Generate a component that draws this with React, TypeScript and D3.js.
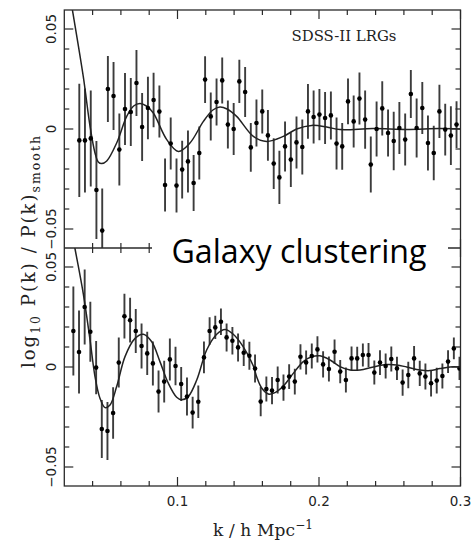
import React from 'react';
import * as d3 from 'd3';

// ---- Data ----
const kTop = [0.0306, 0.0346, 0.0387, 0.0427, 0.0468, 0.0508, 0.0548, 0.0589, 0.0629, 0.0670, 0.0710, 0.0750, 0.0791, 0.0831, 0.0872, 0.0912, 0.0952, 0.0993, 0.1033, 0.1074, 0.1114, 0.1154, 0.1195, 0.1235, 0.1276, 0.1316, 0.1356, 0.1397, 0.1437, 0.1478, 0.1518, 0.1558, 0.1599, 0.1639, 0.1680, 0.1720, 0.1760, 0.1801, 0.1841, 0.1882, 0.1922, 0.1962, 0.2003, 0.2043, 0.2084, 0.2124, 0.2164, 0.2205, 0.2245, 0.2286, 0.2326, 0.2366, 0.2407, 0.2447, 0.2488, 0.2528, 0.2568, 0.2609, 0.2649, 0.2690, 0.2730, 0.2770, 0.2811, 0.2851, 0.2892, 0.2932, 0.2972];
const valTop = [-0.0057, -0.0057, -0.0047, -0.0305, -0.0508, 0.0200, 0.0165, -0.0103, 0.0100, 0.0085, 0.0230, 0.0010, 0.0105, 0.0145, 0.0087, -0.0280, -0.0073, -0.0283, -0.0203, -0.0162, -0.0270, -0.0120, 0.0247, 0.0063, 0.0135, 0.0243, 0.0022, 0.0000, 0.0238, 0.0185, -0.0092, 0.0030, 0.0088, -0.0032, -0.0173, -0.0242, -0.0087, -0.0153, -0.0067, -0.0090, 0.0088, 0.0060, 0.0072, 0.0055, 0.0068, -0.0073, -0.0087, 0.0138, 0.0038, 0.0152, 0.0047, -0.0178, 0.0000, 0.0103, -0.0020, -0.0060, 0.0005, -0.0053, 0.0175, 0.0005, 0.0105, -0.0070, -0.0120, 0.0088, -0.0003, -0.0033, 0.0022];
const errTop = [0.0283, 0.0260, 0.0240, 0.0245, 0.0210, 0.0165, 0.0170, 0.0180, 0.0180, 0.0170, 0.0165, 0.0170, 0.0156, 0.0136, 0.0130, 0.0133, 0.0130, 0.0135, 0.0144, 0.0155, 0.0140, 0.0133, 0.0117, 0.0120, 0.0117, 0.0115, 0.0120, 0.0130, 0.0108, 0.0125, 0.0122, 0.0118, 0.0110, 0.0127, 0.0127, 0.0133, 0.0125, 0.0137, 0.0130, 0.0137, 0.0137, 0.0133, 0.0128, 0.0130, 0.0120, 0.0130, 0.0117, 0.0114, 0.0130, 0.0130, 0.0146, 0.0140, 0.0137, 0.0136, 0.0118, 0.0146, 0.0130, 0.0130, 0.0120, 0.0147, 0.0130, 0.0137, 0.0136, 0.0133, 0.0129, 0.0147, 0.0117];

const kBot = [0.0264, 0.0304, 0.0344, 0.0384, 0.0425, 0.0465, 0.0505, 0.0545, 0.0585, 0.0625, 0.0665, 0.0705, 0.0746, 0.0786, 0.0826, 0.0866, 0.0906, 0.0946, 0.0986, 0.1026, 0.1067, 0.1107, 0.1147, 0.1187, 0.1227, 0.1267, 0.1307, 0.1347, 0.1388, 0.1428, 0.1468, 0.1508, 0.1548, 0.1588, 0.1628, 0.1668, 0.1708, 0.1749, 0.1789, 0.1829, 0.1869, 0.1909, 0.1949, 0.1989, 0.2029, 0.2070, 0.2110, 0.2150, 0.2190, 0.2230, 0.2270, 0.2310, 0.2350, 0.2391, 0.2431, 0.2471, 0.2511, 0.2551, 0.2591, 0.2631, 0.2672, 0.2712, 0.2752, 0.2792, 0.2832, 0.2872, 0.2912, 0.2953, 0.2993];
const valBot = [0.0180, 0.0075, 0.0300, 0.0176, -0.0003, -0.0310, -0.0320, -0.0230, 0.0022, 0.0254, 0.0234, 0.0180, 0.0105, 0.0068, 0.0018, -0.0123, -0.0073, 0.0038, 0.0005, -0.0085, -0.0148, -0.0228, -0.0174, 0.0048, 0.0180, 0.0198, 0.0226, 0.0148, 0.0131, 0.0098, 0.0071, 0.0056, -0.0008, -0.0173, -0.0110, -0.0118, -0.0065, -0.0103, -0.0048, -0.0073, 0.0051, 0.0023, 0.0055, 0.0088, 0.0013, -0.0010, 0.0076, -0.0023, -0.0065, 0.0043, 0.0043, 0.0060, 0.0060, -0.0028, 0.0022, 0.0005, 0.0040, -0.0007, -0.0078, -0.0040, 0.0043, -0.0032, -0.0048, -0.0081, -0.0068, -0.0045, 0.0027, 0.0093, -0.0007];
const errBot = [0.0223, 0.0208, 0.0188, 0.0150, 0.0133, 0.0145, 0.0145, 0.0129, 0.0125, 0.0112, 0.0112, 0.0110, 0.0112, 0.0108, 0.0110, 0.0105, 0.0104, 0.0105, 0.0096, 0.0085, 0.0095, 0.0079, 0.0081, 0.0079, 0.0069, 0.0058, 0.0066, 0.0070, 0.0069, 0.0070, 0.0066, 0.0070, 0.0070, 0.0073, 0.0062, 0.0068, 0.0068, 0.0066, 0.0062, 0.0064, 0.0063, 0.0060, 0.0062, 0.0066, 0.0066, 0.0062, 0.0061, 0.0058, 0.0062, 0.0060, 0.0058, 0.0058, 0.0060, 0.0060, 0.0062, 0.0062, 0.0062, 0.0058, 0.0066, 0.0066, 0.0062, 0.0063, 0.0065, 0.0066, 0.0064, 0.0062, 0.0057, 0.0054, 0.0058];

const modelTopK = [0.0235, 0.0257, 0.0334, 0.0382, 0.0417, 0.0440, 0.0464, 0.0500, 0.0570, 0.0641, 0.0690, 0.0735, 0.0780, 0.0829, 0.0924, 0.1006, 0.1088, 0.1183, 0.1250, 0.1300, 0.1350, 0.1418, 0.1536, 0.1630, 0.1748, 0.1842, 0.1948, 0.2054, 0.2148, 0.2380, 0.2620, 0.2850, 0.3000];
const modelTopV = [0.0692, 0.0597, 0.0263, 0.0013, -0.0120, -0.0165, -0.0173, -0.0160, -0.0070, 0.0063, 0.0115, 0.0127, 0.0115, 0.0080, -0.0053, -0.0112, -0.0070, 0.0038, 0.0095, 0.0110, 0.0100, 0.0063, -0.0037, -0.0062, -0.0037, 0.0000, 0.0018, 0.0010, -0.0003, 0.0002, -0.0002, 0.0002, 0.0000];

const modelBotK = [0.0255, 0.0276, 0.0334, 0.0382, 0.0417, 0.0452, 0.0488, 0.0523, 0.0570, 0.0629, 0.0700, 0.0758, 0.0818, 0.0876, 0.0935, 0.0994, 0.1030, 0.1076, 0.1136, 0.1206, 0.1277, 0.1336, 0.1394, 0.1465, 0.1536, 0.1560, 0.1595, 0.1642, 0.1689, 0.1748, 0.1818, 0.1889, 0.1948, 0.2007, 0.2078, 0.2148, 0.2219, 0.2290, 0.2384, 0.2478, 0.2549, 0.2620, 0.2714, 0.2784, 0.2855, 0.2926, 0.2996];
const modelBotV = [0.0670, 0.0590, 0.0367, 0.0135, -0.0048, -0.0156, -0.0203, -0.0190, -0.0098, 0.0052, 0.0143, 0.0164, 0.0126, 0.0027, -0.0081, -0.0151, -0.0164, -0.0148, -0.0065, 0.0085, 0.0164, 0.0188, 0.0164, 0.0101, 0.0005, -0.0050, -0.0105, -0.0135, -0.0128, -0.0095, -0.0032, 0.0027, 0.0051, 0.0056, 0.0035, 0.0002, -0.0015, -0.0015, 0.0000, 0.0012, 0.0010, 0.0000, -0.0015, -0.0018, -0.0008, 0.0000, 0.0000];

const xMajorTicks = [0.1, 0.2, 0.3];
const xTickLabels = ['0.1', '0.2', '0.3'];
const yLabelVals = [0.05, 0, -0.05];
const yTickLabels = ['0.05', '0', '\u22120.05'];

const FRAME = '#2a2a2a';

type PanelProps = {
  id: string;
  x: d3.ScaleLinear<number, number>;
  y: d3.ScaleLinear<number, number>;
  ks: number[];
  vs: number[];
  es: number[];
  mk: number[];
  mv: number[];
};

function Panel({ id, x, y, ks, vs, es, mk, mv }: PanelProps) {
  const [x0, x1] = x.range();
  const [yb, yt] = y.range();
  const line = d3
    .line<number>()
    .x((_, i) => x(mk[i]))
    .y((v) => y(v))
    .curve(d3.curveCatmullRom.alpha(0.5));
  const xMinor = d3.range(0.04, 0.295, 0.02).filter((t) => !xMajorTicks.some((m) => Math.abs(m - t) < 1e-6));
  const yTicks = d3.range(-0.05, 0.0551, 0.01);
  const isMajorY = (t: number) => Math.abs(t) < 1e-6 || Math.abs(Math.abs(t) - 0.05) < 1e-6;
  return (
    <g>
      <defs>
        <clipPath id={id}>
          <rect x={x0} y={yt} width={x1 - x0} height={yb - yt} />
        </clipPath>
      </defs>
      <g clipPath={`url(#${id})`}>
        {ks.map((k, i) => (
          <line
            key={'e' + i}
            x1={x(k)}
            x2={x(k)}
            y1={y(vs[i] - es[i])}
            y2={y(vs[i] + es[i])}
            stroke="#3c3c3c"
            strokeWidth={1.9}
          />
        ))}
        <path d={line(mv) || ''} fill="none" stroke="#222" strokeWidth={1.5} />
        {ks.map((k, i) => (
          <circle key={'p' + i} cx={x(k)} cy={y(vs[i])} r={2.3} fill="#000" />
        ))}
      </g>
      {xMinor.map((t, i) => (
        <g key={'xm' + i}>
          <line x1={x(t)} x2={x(t)} y1={yt} y2={yt + 5} stroke={FRAME} strokeWidth={1.2} />
          <line x1={x(t)} x2={x(t)} y1={yb} y2={yb - 5} stroke={FRAME} strokeWidth={1.2} />
        </g>
      ))}
      {xMajorTicks.map((t, i) => (
        <g key={'xM' + i}>
          <line x1={x(t)} x2={x(t)} y1={yt} y2={yt + 9} stroke={FRAME} strokeWidth={1.2} />
          <line x1={x(t)} x2={x(t)} y1={yb} y2={yb - 9} stroke={FRAME} strokeWidth={1.2} />
        </g>
      ))}
      {yTicks.map((t, i) => {
        const len = isMajorY(t) ? 9 : 5;
        return (
          <g key={'yt' + i}>
            <line x1={x0} x2={x0 + len} y1={y(t)} y2={y(t)} stroke={FRAME} strokeWidth={1.2} />
            <line x1={x1} x2={x1 - len} y1={y(t)} y2={y(t)} stroke={FRAME} strokeWidth={1.2} />
          </g>
        );
      })}
      {yLabelVals.map((t, i) => (
        <text
          key={'yl' + i}
          transform={`translate(55.5, ${y(t)}) rotate(-90)`}
          textAnchor="middle"
          fontFamily="'DejaVu Sans', sans-serif"
          fontSize={13.5}
          fill="#222"
        >
          {yTickLabels[i]}
        </text>
      ))}
    </g>
  );
}

export default function App() {
  const W = 475;
  const H = 542;
  const left = 64.3;
  const right = 460.5;
  const top = 10;
  const mid = 248;
  const bottom = 486;

  const x = d3.scaleLinear().domain([0.02, 0.3]).range([left, right]);
  const yTop = d3.scaleLinear().domain([-0.0595, 0.0595]).range([mid, top]);
  const yBot = d3.scaleLinear().domain([-0.0595, 0.0595]).range([bottom, mid]);

  return (
    <svg
      width={W}
      height={H}
      viewBox={`0 0 ${W} ${H}`}
      style={{ position: 'absolute', left: 0, top: 0, background: '#fff' }}
    >
      <rect x={0} y={0} width={W} height={H} fill="#fff" />
      <Panel id="clipTop" x={x} y={yTop} ks={kTop} vs={valTop} es={errTop} mk={modelTopK} mv={modelTopV} />
      <Panel id="clipBot" x={x} y={yBot} ks={kBot} vs={valBot} es={errBot} mk={modelBotK} mv={modelBotV} />
      <rect x={left} y={top} width={right - left} height={bottom - top} fill="none" stroke={FRAME} strokeWidth={1.3} />
      <line x1={left} x2={right} y1={mid} y2={mid} stroke={FRAME} strokeWidth={1.3} />

      {xMajorTicks.map((t, i) => (
        <text
          key={'xl' + i}
          x={x(t)}
          y={506}
          textAnchor="middle"
          fontFamily="'DejaVu Sans', sans-serif"
          fontSize={13.5}
          fill="#222"
        >
          {xTickLabels[i]}
        </text>
      ))}

      <text
        x={263}
        y={536}
        textAnchor="middle"
        fontFamily="'DejaVu Serif', serif"
        fontSize={17}
        fill="#222"
        textLength={100}
        lengthAdjust="spacing"
      >
        k / h Mpc
        <tspan dy={-7} fontSize={12}>{'\u22121'}</tspan>
      </text>

      <text
        transform={`translate(35, 252) rotate(-90)`}
        textAnchor="middle"
        fontFamily="'DejaVu Serif', serif"
        fontSize={18}
        fill="#222"
        textLength={232}
        lengthAdjust="spacing"
      >
        log
        <tspan dy={5} fontSize={12.5}>10</tspan>
        <tspan dy={-5}>{'\u00a0P(k)\u00a0/\u00a0P(k)'}</tspan>
        <tspan dy={5} fontSize={12.5}>smooth</tspan>
      </text>

      <text
        x={291.5}
        y={41}
        fontFamily="'DejaVu Serif', serif"
        fontSize={14}
        fill="#222"
        textLength={105}
        lengthAdjust="spacingAndGlyphs"
      >
        SDSS-II LRGs
      </text>

      <rect x={152} y={232} width={296} height={46} fill="#fff" />
      <text
        x={171.5}
        y={263}
        fontFamily="'Open Sans', 'Noto Sans', sans-serif"
        fontSize={32}
        fill="#000"
        textLength={255}
        lengthAdjust="spacingAndGlyphs"
      >
        Galaxy clustering
      </text>
    </svg>
  );
}
